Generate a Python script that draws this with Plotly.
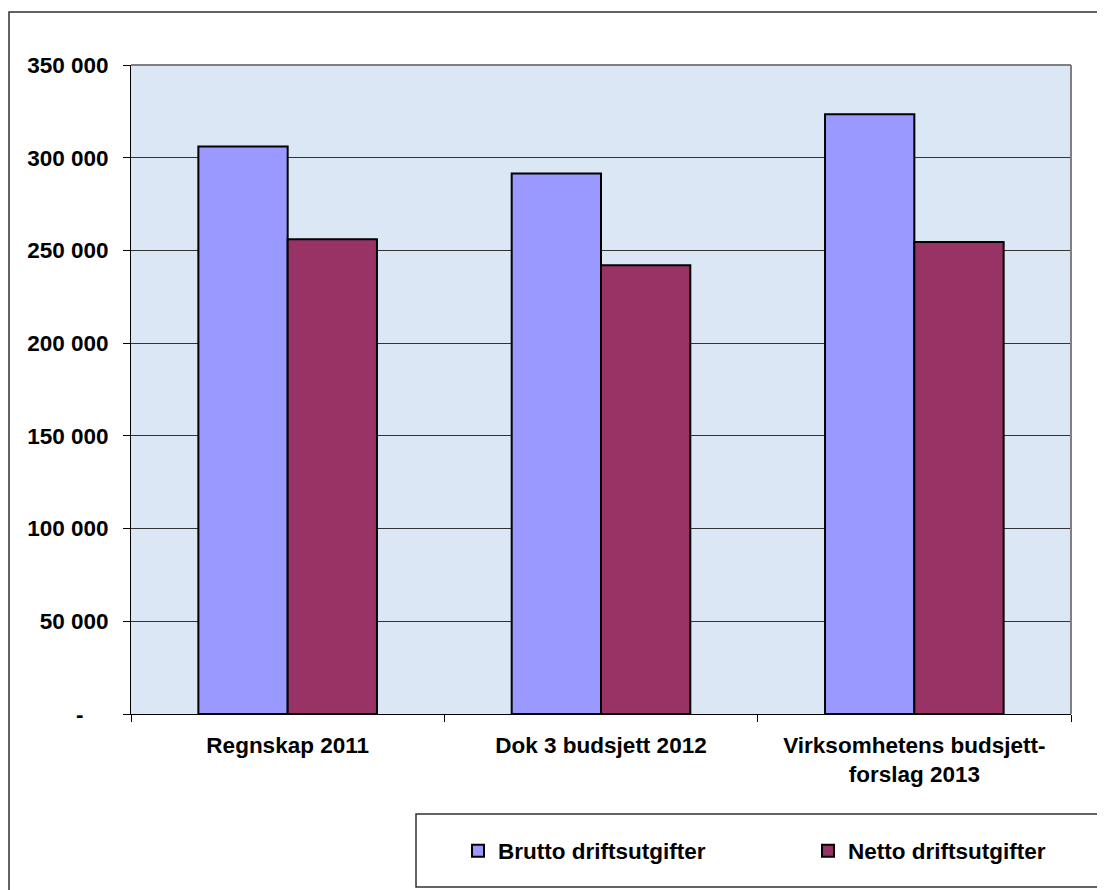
import plotly.graph_objects as go

categories = ["Regnskap 2011", "Dok 3 budsjett 2012", "Virksomhetens budsjett-<br>forslag 2013"]
brutto = [306000, 291500, 323500]
netto = [256000, 242000, 254500]
series_names = ["Brutto driftsutgifter", "Netto driftsutgifter"]
y_tickvals = [0, 50000, 100000, 150000, 200000, 250000, 300000, 350000]
y_ticktext = ["-\u00a0\u00a0\u00a0\u00a0", "50 000", "100 000", "150 000", "200 000", "250 000", "300 000", "350 000"]

FONT = "Liberation Sans, Arial, sans-serif"
FS = 22.5
# page body has an 8px margin, so figure coords = screen coords - 8
W, H = 1097, 882
L, R, T, B = 123, 34, 57, 176
PW, PH = W - L - R, H - T - B

def px(xp):
    return (xp - L) / PW

def py(yp):
    return (H - B - yp) / PH

fig = go.Figure()
fig.add_trace(go.Bar(x=categories, y=brutto, name=series_names[0],
                     marker=dict(color="#9999FF", line=dict(color="#000000", width=2))))
fig.add_trace(go.Bar(x=categories, y=netto, name=series_names[1],
                     marker=dict(color="#993366", line=dict(color="#000000", width=2))))

fig.update_layout(
    width=W, height=H,
    margin=dict(l=L, r=R, t=T, b=B, autoexpand=False),
    paper_bgcolor="white",
    plot_bgcolor="#dbe7f4",
    barmode="group",
    bargap=0.43,
    bargroupgap=0,
    font=dict(family=FONT, size=FS, color="black", weight="bold"),
    showlegend=True,
    legend=dict(orientation="h", x=px(450), xanchor="left", y=py(843), yanchor="middle",
                entrywidth=305, entrywidthmode="pixels",
                font=dict(family=FONT, size=FS, color="black", weight="bold"),
                bgcolor="rgba(0,0,0,0)", borderwidth=0, traceorder="normal"),
    xaxis=dict(type="category", showgrid=False, showline=True, linecolor="black", linewidth=1,
               ticks="outside", tickson="boundaries", ticklen=7, tickcolor="black",
               ticklabelstandoff=11, tickfont=dict(family=FONT, size=FS, weight="bold"),
               zeroline=False),
    yaxis=dict(range=[0, 350000], tickvals=y_tickvals, ticktext=y_ticktext,
               showgrid=True, gridcolor="#333333", gridwidth=1,
               showline=True, linecolor="black", linewidth=1,
               ticks="outside", ticklen=7, tickcolor="black", ticklabelstandoff=10,
               tickfont=dict(family=FONT, size=FS, weight="bold"), zeroline=False),
    shapes=[
        # plot area border (grey) top and right
        dict(type="line", xref="paper", yref="paper", x0=0, x1=1, y0=1, y1=1,
             line=dict(color="#808080", width=2), layer="above"),
        dict(type="line", xref="paper", yref="paper", x0=1, x1=1, y0=0, y1=1,
             line=dict(color="#808080", width=2), layer="above"),
        # outer chart frame
        dict(type="rect", xref="paper", yref="paper", x0=px(1), x1=px(1110), y0=py(895), y1=py(4),
             line=dict(color="#303030", width=1.5)),
        # legend box
        dict(type="rect", xref="paper", yref="paper", x0=px(408), x1=px(1110), y0=py(879), y1=py(806),
             line=dict(color="#303030", width=1.5)),
    ],
)

fig.write_html("out.html")
